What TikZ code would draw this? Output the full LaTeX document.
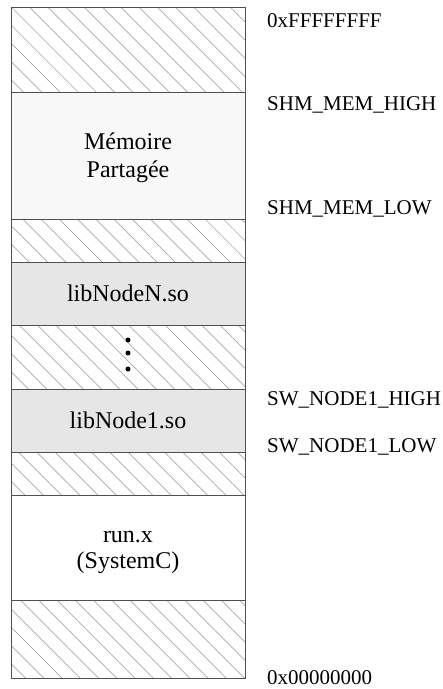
\documentclass[tikz,border=0pt]{standalone}
\usepackage{fontspec}
\setmainfont{Liberation Serif}
\usetikzlibrary{patterns.meta}
\definecolor{shmfill}{HTML}{F8F8F8}
\definecolor{libfill}{HTML}{E6E6E6}
\definecolor{edge}{HTML}{505050}
\definecolor{hatchcol}{HTML}{A8A8A8}
\begin{document}
\begin{tikzpicture}[x=1pt,y=-1pt,
  region/.style={draw=edge, line width=1pt, minimum width=234pt, inner sep=0pt, outer sep=0pt},
  hatched/.style={region, pattern={Lines[angle=-45,distance=12.9pt,line width=0.7pt]}, pattern color=hatchcol},
  lbl/.style={anchor=base, inner sep=0pt, font=\fontsize{24}{28}\selectfont},
  addr/.style={anchor=base west, inner sep=0pt, font=\fontsize{21}{25}\selectfont},
  dotmark/.style={circle, fill=black, inner sep=0pt, minimum size=5pt}]
\useasboundingbox (0,0) rectangle (443,689);
% regions (top to bottom)
\node[hatched, minimum height=85pt]  (h1)   at (128,49.5)  {};
\node[region, fill=shmfill, minimum height=127pt] (shm) at (128,155.5) {};
\node[hatched, minimum height=43pt]  (h2)   at (128,240.5) {};
\node[region, fill=libfill, minimum height=63pt] (libN) at (128,293.5) {};
\node[hatched, minimum height=64pt]  (h3)   at (128,357)   {};
\node[region, fill=libfill, minimum height=63pt] (lib1) at (128,420.5) {};
\node[hatched, minimum height=43pt]  (h4)   at (128,473.5) {};
\node[region, fill=white, minimum height=105pt] (run) at (128,547.5) {};
\node[hatched, minimum height=78pt]  (h5)   at (128,639)   {};
% region texts
\node[lbl] (shmA) at (128,149) {Mémoire};
\node[lbl] (shmB) at (128,177) {Partagée};
\node[lbl] (libNt) at (128,301) {libNodeN.so};
\node[lbl] (lib1t) at (128,428) {libNode1.so};
\node[lbl] (runA) at (128,542) {run.x};
\node[lbl] (runB) at (128,568) {(SystemC)};
% dots
\node[dotmark] (d1) at (128,340) {};
\node[dotmark] (d2) at (128,353) {};
\node[dotmark] (d3) at (128,369) {};
% addresses
\node[addr] (aF)   at (267,27)  {0xFFFFFFFF};
\node[addr] (aSH)  at (267,110) {SHM\_MEM\_HIGH};
\node[addr] (aSL)  at (267,214) {SHM\_MEM\_LOW};
\node[addr] (aNH)  at (267,405) {SW\_NODE1\_HIGH};
\node[addr] (aNL)  at (267,452) {SW\_NODE1\_LOW};
\node[addr] (a0)   at (267,684) {0x00000000};
\end{tikzpicture}
\end{document}
